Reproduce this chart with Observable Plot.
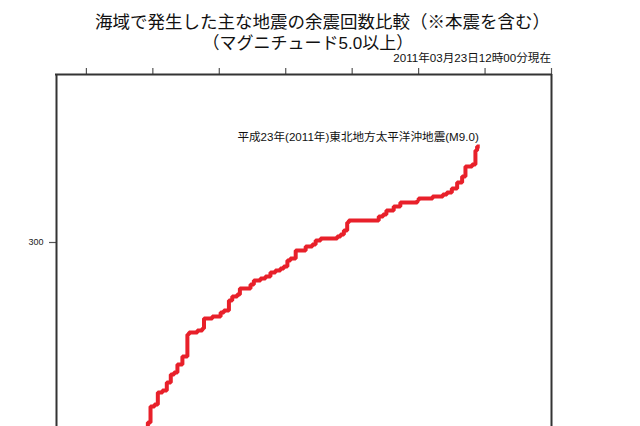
<!DOCTYPE html>
<html>
<head>
<meta charset="utf-8">
<script src="https://cdn.jsdelivr.net/npm/d3@7"></script>
<script src="https://cdn.jsdelivr.net/npm/@observablehq/plot@0.6"></script>
<style>
  html, body { margin: 0; padding: 0; background: #fff; }
  #chart svg { display: block; }
</style>
</head>
<body>
<div id="chart"></div>
<script>
// Titles
const titleText = "海域で発生した主な地震の余震回数比較（※本震を含む）";
const subtitleText = "（マグニチュード5.0以上）";
const dateText = "2011年03月23日12時00分現在";
const seriesLabel = "平成23年(2011年)東北地方太平洋沖地震(M9.0)";

// Axis setup (days since main shock, cumulative count)
const xDomain = [-0.9, 14];
const xTicks = [0, 2, 4, 6, 8, 10, 12, 14];
const yDomain = [208, 384];
const yTicks = [100, 200, 300];
const yTickLabels = ["100", "200", "300"];

// Tohoku M9.0 cumulative aftershock count
const days = [1.81, 1.85, 1.93, 2.05, 2.15, 2.29, 2.42, 2.54, 2.64, 2.74, 2.89, 3.04, 3.09, 3.34, 3.49, 3.54, 3.79, 4.04, 4.14, 4.29, 4.39, 4.54, 4.62, 4.94, 5.04, 5.24, 5.39, 5.54, 5.69, 5.84, 5.94, 6.05, 6.14, 6.30, 6.60, 6.80, 6.90, 7.05, 7.55, 7.65, 7.75, 7.85, 7.90, 8.80, 8.93, 9.03, 9.25, 9.45, 9.96, 10.00, 10.42, 10.73, 10.85, 11.00, 11.16, 11.31, 11.41, 11.61, 11.71, 11.76, 11.84];
const counts = [205, 210, 218, 219, 225, 226, 230, 234, 235, 239, 243, 254, 255, 256, 257, 262, 263, 265, 266, 271, 273, 274, 277, 279, 281, 282, 283, 285, 286, 287, 288, 291, 292, 296, 298, 299, 301, 302, 303, 304, 306, 310, 311, 313, 314, 316, 318, 320, 321, 322, 323, 324, 325, 327, 330, 333, 338, 339, 346, 348, 348];

const series = days.map((d, i) => ({day: d, count: counts[i]}));
const last = series[series.length - 1];
const visibleYTicks = yTicks.map((t, i) => ({t, label: yTickLabels[i]}))
  .filter(d => d.t >= yDomain[0] && d.t <= yDomain[1]);

const fontFamily = '"Liberation Sans", "Noto Sans CJK JP", sans-serif';

const chart = Plot.plot({
  width: 640,
  height: 426,
  marginLeft: 56,
  marginRight: 89,
  marginTop: 74,
  marginBottom: 0,
  style: {fontFamily, background: "#fff", color: "#222", overflow: "visible"},
  x: {domain: xDomain, axis: null},
  y: {domain: yDomain, axis: null},
  marks: [
    Plot.axisX(xTicks, {anchor: "top", tickSize: 7, tickFormat: () => "", stroke: "#555", strokeWidth: 1.2, label: null}),
    Plot.axisY(visibleYTicks.map(d => d.t), {anchor: "left", tickSize: 7, tickPadding: 6, fontSize: 9, stroke: "#555", strokeWidth: 1.2,
      tickFormat: v => visibleYTicks.find(d => d.t === v).label, label: null}),
    Plot.line(series, {x: "day", y: "count", curve: "step-after", stroke: "#e8202a", strokeWidth: 4, strokeLinejoin: "miter", strokeLinecap: "butt", clip: true}),
    Plot.ruleX(xDomain, {stroke: "#333", strokeWidth: 2}),
    Plot.ruleY([yDomain[1]], {stroke: "#333", strokeWidth: 2, strokeLinecap: "square"}),
    Plot.text([last], {x: "day", y: "count", text: () => seriesLabel, textAnchor: "end", lineAnchor: "bottom", dx: -1, dy: -5.3, fontSize: 11.6, fill: "#111"}),
    Plot.text([titleText], {frameAnchor: "top-left", text: d => d, textAnchor: "start", lineAnchor: "bottom", dx: 38.5, dy: -47, fontSize: 17.5, fill: "#111"}),
    Plot.text([subtitleText], {frameAnchor: "top-left", text: d => d, textAnchor: "start", lineAnchor: "bottom", dx: 146, dy: -25.5, fontSize: 17, fill: "#111"}),
    Plot.text([dateText], {frameAnchor: "top-right", text: d => d, textAnchor: "end", lineAnchor: "bottom", dx: -0.5, dy: -12.3, fontSize: 11.6, fill: "#111"})
  ]
});

document.getElementById("chart").appendChild(chart);
</script>
</body>
</html>
